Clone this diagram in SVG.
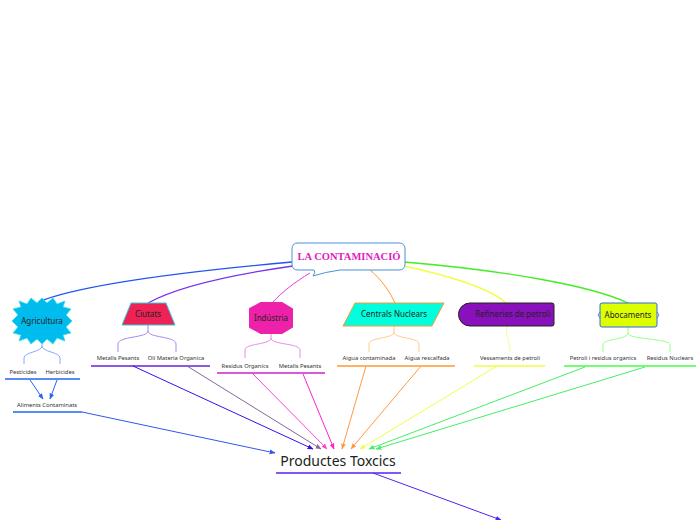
<svg xmlns="http://www.w3.org/2000/svg" width="696" height="520" viewBox="0 0 696 520">
<style>
.lbl{font-family:"Noto Sans","Open Sans",sans-serif;font-size:8px;fill:#222;text-anchor:middle}
.sub{font-family:"Noto Sans","Open Sans",sans-serif;font-size:5.8px;fill:#333;text-anchor:middle}
.ln{fill:none;stroke-width:1}
.br{fill:none;stroke-width:1.3}
</style>
<defs>
<marker id="a" viewBox="0 0 10 10" refX="9" refY="5" markerWidth="6" markerHeight="6" orient="auto" markerUnits="userSpaceOnUse"><path d="M0,1 L10,5 L0,9 z" fill="context-stroke"/></marker>
</defs>
<rect width="696" height="520" fill="#fff"/>
<g id="connectors">
<path class="br" stroke="#2255ee" d="M292,262 C180,272 80,285 38,302"/>
<path class="br" stroke="#7733ee" d="M293,266 C230,275 175,288 148,303"/>
<path class="ln" stroke="#e040e0" d="M310,273 C295,282 282,292 272,303"/>
<path class="ln" stroke="#ff9933" d="M370,270 C382,280 390,292 395,303"/>
<path class="br" stroke="#eeff44" d="M404,266 C450,276 490,288 506,303"/>
<path class="br" stroke="#44ee22" d="M404,262 C500,270 590,285 628,303"/>
<path class="ln" stroke="#88aaff" d="M42,340 V346 C42,352 24,352 24,358 V364 M42,346 C42,352 60,352 60,358 V364"/>
<path class="ln" stroke="#aa88ee" d="M148,325 V331 C148,338 118,336 118,344 V352 M148,331 C148,338 176,336 176,344 V352"/>
<path class="ln" stroke="#ee88ee" d="M271,332 V338 C271,345 245,343 245,350 V358 M271,338 C271,345 300,343 300,350 V358"/>
<path class="ln" stroke="#ffcc88" d="M394,326 V332 C394,339 369,337 369,344 V352 M394,332 C394,339 419,337 419,344 V352"/>
<path class="ln" stroke="#eeff88" d="M507,326 C505,335 510,340 510,352"/>
<path class="ln" stroke="#99ff88" d="M628,327 V333 C628,340 603,338 603,345 V352 M628,333 C628,340 670,338 670,345 V352"/>
<path class="br" stroke="#2266ee" d="M5,379 H80"/>
<path class="ln" stroke="#2266ee" d="M30,380 L43,399" marker-end="url(#a)"/>
<path class="ln" stroke="#2266ee" d="M57,380 L50,399" marker-end="url(#a)"/>
<path class="br" stroke="#2266ee" d="M13,412 H82"/>
<path class="ln" stroke="#3355ee" d="M82,412 L275,453" marker-end="url(#a)"/>
<path class="br" stroke="#6622dd" d="M91,366 H210"/>
<path class="ln" stroke="#3311ee" d="M133,366 L313,449" marker-end="url(#a)"/>
<path class="ln" stroke="#886699" d="M187,366 L321,449" marker-end="url(#a)"/>
<path class="br" stroke="#cc22cc" d="M217,373 H325"/>
<path class="ln" stroke="#ff44cc" d="M253,374 L327,449" marker-end="url(#a)"/>
<path class="ln" stroke="#ff22cc" d="M303,374 L334,449" marker-end="url(#a)"/>
<path class="br" stroke="#ff9933" d="M337,366 H455"/>
<path class="ln" stroke="#ff9944" d="M366,366 L342,449" marker-end="url(#a)"/>
<path class="ln" stroke="#ff9944" d="M421,366 L351,449" marker-end="url(#a)"/>
<path class="br" stroke="#eeff44" d="M474,366 H545"/>
<path class="ln" stroke="#eeff44" d="M497,366 L360,449" marker-end="url(#a)"/>
<path class="br" stroke="#44ff44" d="M564,366 H696"/>
<path class="ln" stroke="#44ee66" d="M585,367 L369,449" marker-end="url(#a)"/>
<path class="ln" stroke="#44ee66" d="M645,367 L376,449" marker-end="url(#a)"/>
<path class="br" stroke="#5522ee" stroke-width="2" d="M276,473 H401"/>
<path class="ln" stroke="#5522ee" d="M373,473 L501,520" marker-end="url(#a)"/>
</g>
<g id="central">
<path d="M298,243 H399 Q405,243 405,249 V264 Q405,270 399,270 H340 Q325,272 313,276 Q316,272 314,270 H298 Q292,270 292,264 V249 Q292,243 298,243 Z" fill="#fff" stroke="#4a90d9" stroke-width="1"/>
<text x="349" y="260" font-family="Liberation Serif,serif" font-weight="bold" font-size="10.5" fill="#e020c0" text-anchor="middle">LA CONTAMINACIÓ</text>
</g>
<g id="agricultura">
<polygon points="12,321 18,315 13,309 21,307 19,301 27,304 31,298 37,303 42,298 47,303 53,298 57,304 65,301 63,307 71,309 66,315 72,321 66,327 71,333 63,335 65,341 57,338 53,344 47,339 42,344 37,339 31,344 27,338 19,341 21,335 13,333 18,327" fill="#00bbee" stroke="#33ddee" stroke-width="0.8"/>
<text class="lbl" x="42" y="324" fill="#112244">Agricultura</text>
</g>
<g id="ciutats">
<polygon points="131,303 166,303 175,325 122,325" fill="#ee2255" stroke="#33ccdd" stroke-width="1"/>
<text class="lbl" x="148" y="317">Ciutats</text>
</g>
<g id="industria">
<polygon points="250,309 261,303 282,303 292,309 292,327 282,333 261,333 250,327" fill="#ee22aa" stroke="#ee22aa" stroke-linejoin="round" stroke-width="2"/>
<text class="lbl" x="271" y="321">Indústria</text>
</g>
<g id="centrals">
<polygon points="355,303 444,303 432,326 343,326" fill="#00ffdd" stroke="#ff9933" stroke-width="1"/>
<text class="lbl" x="394" y="317">Centrals Nuclears</text>
</g>
<g id="refineries">
<path d="M470,303 H552 Q554,303 554,305 V324 Q554,326 552,326 H470 A11.5,11.5 0 0 1 470,303 Z" fill="#8811bb" stroke="#222" stroke-width="1"/>
<text class="lbl" x="513" y="317">Refineries de petroli</text>
</g>
<g id="abocaments">
<rect x="600" y="303" width="57" height="24" rx="2" fill="#ddff00" stroke="#3366ee" stroke-width="1"/>
<path d="M600,312 l-2,3 l2,3 M657,312 l2,3 l-2,3" fill="none" stroke="#3366ee" stroke-width="0.8"/>
<text class="lbl" x="628" y="318">Abocaments</text>
</g>
<g id="pesticides"><text class="sub" x="23" y="374">Pesticides</text></g>
<g id="herbicides"><text class="sub" x="60" y="374">Herbicides</text></g>
<g id="aliments"><text class="sub" x="47" y="407">Aliments Contaminats</text></g>
<g id="metalls1"><text class="sub" x="118" y="360">Metalls Pesants</text></g>
<g id="oli"><text class="sub" x="176" y="360">Olí Materia Organica</text></g>
<g id="residus1"><text class="sub" x="245" y="368">Residus Organics</text></g>
<g id="metalls2"><text class="sub" x="300" y="368">Metalls Pesants</text></g>
<g id="aigua1"><text class="sub" x="369" y="360">Aigua contaminada</text></g>
<g id="aigua2"><text class="sub" x="427" y="360">Aigua rescalfada</text></g>
<g id="vessaments"><text class="sub" x="510" y="360">Vessaments de petroli</text></g>
<g id="petroli"><text class="sub" x="603" y="360">Petroli i residus organics</text></g>
<g id="residus2"><text class="sub" x="670" y="360">Residus Nuclears</text></g>
<g id="productes"><text x="338" y="466" font-family="Noto Sans,Open Sans,sans-serif" font-size="14" fill="#222" text-anchor="middle">Productes Toxcics</text></g>
</svg>
